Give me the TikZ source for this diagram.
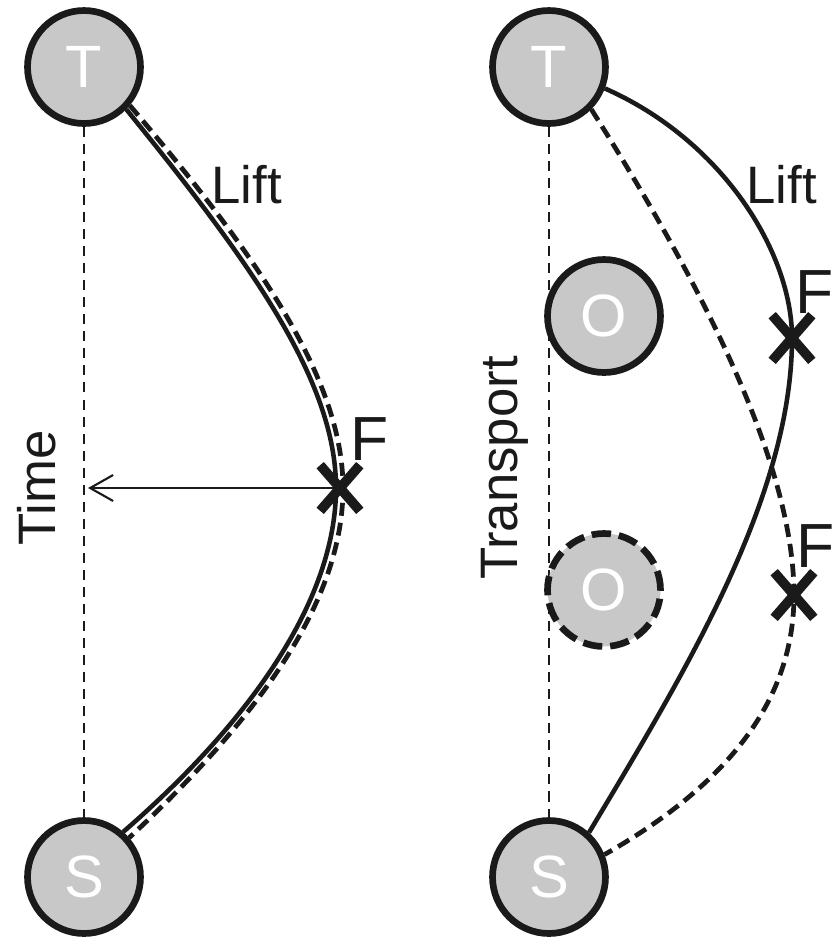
\documentclass[tikz,border=0pt]{standalone}
\usepackage{fontspec}
\setmainfont{Liberation Sans}
\usetikzlibrary{arrows.meta,shapes.misc,backgrounds}
\definecolor{ink}{HTML}{1A1A1A}
\definecolor{disk}{HTML}{C8C8C8}

\begin{document}
\begin{tikzpicture}[x=0.02cm, y=-0.02cm,
        statenode/.style={circle, draw=ink, fill=disk, line width=3.8pt,
        minimum size=2.26cm, inner sep=0pt, text=white,
        font=\fontsize{34}{40}\selectfont},
        ghostnode/.style={statenode, dash pattern=on 11pt off 4.5pt},
        axisline/.style={ink, line width=1.2pt, dash pattern=on 5.7pt off 4pt},
        liftpath/.style={ink, line width=2.6pt},
        transpath/.style={ink, line width=2.7pt, dash pattern=on 7.4pt off 4pt},
        fmark/.style={cross out, draw=ink, line width=5.5pt,
        minimum width=0.6cm, minimum height=0.72cm, inner sep=0pt},
        labeltext/.style={text=ink, font=\fontsize{30}{36}\selectfont,
        inner sep=0pt},
        flabel/.style={text=ink, font=\fontsize{35.5}{42}\selectfont,
        inner sep=0pt, anchor=base west},
        timearrow/.style={ink, line width=1.2pt,
        -{Straight Barb[length=0.46cm, width=0.52cm, line width=1.2pt]}},
      ]
      \useasboundingbox (0,0) rectangle (833,938);

      % Left panel - lift and transport on the same path
      \node[statenode] (T1) at (84, 67) {T};
      \node[statenode] (S1) at (84, 877) {S};
      \coordinate (F1) at (340, 488);
      \coordinate (tend) at (88, 488);
      \begin{scope}[on background layer]
        \draw[axisline] (T1.south) -- (S1.north);
      \end{scope}
      \draw[liftpath] (T1.-45) .. controls (250, 262) and (336, 380) ..
      (336, 488) .. controls (336, 600) and (250, 722) .. (S1.49);
      \draw[transpath] (T1.-40) .. controls (258, 256) and (343, 380) ..
      (343, 488) .. controls (343, 602) and (258, 718) .. (S1.41);
      \node[fmark] (x1) at (F1) {};
      \draw[timearrow] (F1) -- (tend);
      \node[flabel] (f1) at (350, 460) {F};
      \node[labeltext, anchor=base west] (lift1) at (211, 203) {Lift};
      \node[labeltext, rotate=90, anchor=base] (time) at (55, 488) {Time};

      % Right panel - obstacle moved, lift and transport split
      \node[statenode] (T2) at (549, 67) {T};
      \node[statenode] (S2) at (549, 877) {S};
      \node[statenode] (O1) at (604, 316) {O};
      \node[statenode, ghostnode] (O2) at (604, 590) {O};
      \coordinate (F2) at (792, 338);
      \coordinate (F3) at (794, 595);
      \begin{scope}[on background layer]
        \draw[axisline] (T2.south) -- (S2.north);
      \end{scope}
      \draw[liftpath] (T2.-21) .. controls (722, 140) and (792, 252) ..
      (F2) .. controls (792, 500) and (680, 680) .. (S2.48);
      \draw[transpath] (T2.-45) .. controls (680, 250) and (794, 450) ..
      (F3) .. controls (794, 720) and (700, 800) .. (S2.22);
      \node[fmark] (x2) at (F2) {};
      \node[fmark] (x3) at (F3) {};
      \node[flabel] (f2) at (795, 313) {F};
      \node[flabel] (f3) at (796, 567) {F};
      \node[labeltext, anchor=base west] (lift2) at (746, 203) {Lift};
      \node[labeltext, rotate=90, anchor=base] (transport) at (517, 468)
      {Transport};
    \end{tikzpicture}
\end{document}
